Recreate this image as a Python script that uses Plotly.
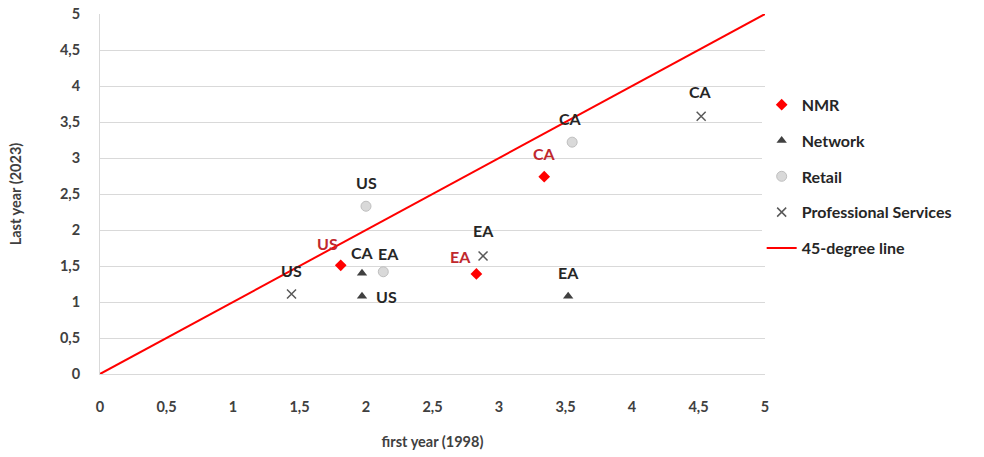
import plotly.graph_objects as go

# Indicator values: first year (1998) vs last year (2023)
regions = ["US", "EA", "CA"]

nmr_first = [1.81, 2.83, 3.34]
nmr_last = [1.51, 1.39, 2.74]

network_first = [1.97, 3.52, 1.97]
network_last = [1.08, 1.08, 1.40]
network_regions = ["US", "EA", "CA"]

retail_first = [2.00, 2.13, 3.55]
retail_last = [2.33, 1.42, 3.22]

prof_first = [1.44, 2.88, 4.52]
prof_last = [1.11, 1.64, 3.58]

diag = [0, 5]

FONT = "Lato"
DARK = "#262626"
LABEL_RED = "#C0282D"

fig = go.Figure()

fig.add_trace(go.Scatter(
    x=nmr_first, y=nmr_last, mode="markers", name="NMR",
    marker=dict(symbol="diamond", size=9, color="#FF0000"),
    legendgroup="a",
))
fig.add_trace(go.Scatter(
    x=network_first, y=network_last, mode="markers", name="Network",
    marker=dict(symbol="triangle-up", size=9, color="#404040"),
    legendgroup="b",
))
fig.add_trace(go.Scatter(
    x=retail_first, y=retail_last, mode="markers", name="Retail",
    marker=dict(symbol="circle", size=10, color="#D9D9D9",
                line=dict(color="#BFBFBF", width=1)),
    legendgroup="c",
))
fig.add_trace(go.Scatter(
    x=prof_first, y=prof_last, mode="markers", name="Professional Services",
    marker=dict(symbol="x-thin", size=9, color="#595959",
                line=dict(color="#595959", width=1.5)),
    legendgroup="d",
))
fig.add_trace(go.Scatter(
    x=diag, y=diag, mode="lines", name="45-degree line",
    line=dict(color="#FF0000", width=2),
    legendgroup="e",
))

# Data labels: (xshift, yshift) in pixels relative to each marker
def add_labels(xs, ys, names, color, shifts):
    for x, y, t, (dx, dy) in zip(xs, ys, names, shifts):
        fig.add_annotation(
            x=x, y=y, text=t, showarrow=False, xshift=dx, yshift=dy,
            font=dict(family=FONT, size=16, color=color, weight="bold"),
        )

add_labels(nmr_first, nmr_last, regions, LABEL_RED, [(-13, 22), (-16, 17), (0, 23)])
add_labels(network_first, network_last, network_regions, DARK, [(24, 0), (0, 24), (0, 21)])
add_labels(retail_first, retail_last, regions, DARK, [(0, 24), (5, 18), (-2, 24)])
add_labels(prof_first, prof_last, regions, DARK, [(0, 24), (0, 25), (-1, 25)])

axis_font = dict(family=FONT, size=14.5, color="#404040", weight="bold")
fig.update_layout(
    width=984, height=457,
    margin=dict(l=100, r=219, t=14, b=83),
    plot_bgcolor="white", paper_bgcolor="white",
    separators=",.",
    font=dict(family=FONT, color="#404040"),
    showlegend=True,
    legend=dict(
        x=0.995, xanchor="left", y=0.795, yanchor="top",
        font=dict(family=FONT, size=16, color=DARK, weight="bold"),
        tracegroupgap=12, traceorder="grouped",
    ),
    xaxis=dict(
        range=[0, 5], dtick=0.5, tick0=0, showgrid=False, automargin=False,
        zeroline=False, showline=True, linecolor="#D9D9D9", linewidth=1,
        tickfont=axis_font, ticklabelstandoff=20,
        title=dict(text="first year (1998)", font=axis_font, standoff=22),
    ),
    yaxis=dict(
        range=[0, 5], dtick=0.5, tick0=0, showgrid=True, gridcolor="#D9D9D9",
        automargin=False,
        zeroline=False, showline=True, linecolor="#D9D9D9", linewidth=1,
        tickfont=axis_font, ticklabelstandoff=16,
        title=dict(text="Last year (2023)", font=axis_font, standoff=34),
    ),
)

fig.write_html("out.html")
